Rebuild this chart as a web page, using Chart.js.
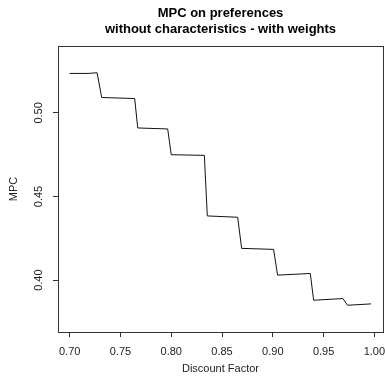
<!DOCTYPE html>
<html>
<head>
<meta charset="utf-8">
<script src="https://cdn.jsdelivr.net/npm/chart.js@4/dist/chart.umd.min.js"></script>
<style>
  body { margin: 0; background: #fff; }
  #wrap { width: 385px; height: 382px; }
</style>
</head>
<body>
<div id="wrap"><canvas id="chart"></canvas></div>
<script>
// values
const discountFactor = [0.700, 0.718, 0.727, 0.7315, 0.764, 0.767, 0.7965, 0.800, 0.8326, 0.8355,
  0.8654, 0.8693, 0.9008, 0.9047, 0.9369, 0.9402, 0.969, 0.9736, 0.9967];
const mpc = [0.5236, 0.5236, 0.524, 0.5092, 0.5086, 0.491, 0.4904, 0.4750, 0.4746, 0.4384,
  0.4376, 0.419, 0.4184, 0.403, 0.404, 0.388, 0.389, 0.385, 0.3858];
const xTicks = [0.70, 0.75, 0.80, 0.85, 0.90, 0.95, 1.00];
const yTicks = [0.40, 0.45, 0.50];
const titleLines = ['MPC on preferences', 'without characteristics - with weights'];

const fontFamily = '"Liberation Sans", Arial, sans-serif';
const ink = '#222';

// box round the plot region, like R's box()
const boxPlugin = {
  id: 'plotBox',
  afterDraw(chart) {
    const a = chart.chartArea;
    const ctx = chart.ctx;
    ctx.save();
    ctx.strokeStyle = '#333';
    ctx.lineWidth = 1;
    ctx.strokeRect(Math.round(a.left) + 0.5, Math.round(a.top) + 0.5,
      Math.round(a.right - a.left), Math.round(a.bottom - a.top));
    ctx.restore();
  },
};

const ctx = document.getElementById('chart').getContext('2d');
const chart = new Chart(ctx, {
  type: 'line',
  data: {
    datasets: [{
      data: discountFactor.map((x, i) => ({ x: x, y: mpc[i] })),
      borderColor: '#111',
      borderWidth: 1,
      pointRadius: 0,
      tension: 0,
      fill: false,
    }],
  },
  options: {
    responsive: true,
    maintainAspectRatio: false,
    animation: false,
    layout: { padding: { left: 0, right: 2, top: 0, bottom: 0 } },
    plugins: {
      legend: { display: false },
      tooltip: { enabled: false },
      title: {
        display: true,
        text: titleLines,
        fullSize: false,
        color: '#000',
        font: { family: fontFamily, size: 13, weight: 'bold', lineHeight: 16 / 13 },
        padding: { top: 5, bottom: 9 },
      },
    },
    scales: {
      x: {
        type: 'linear',
        min: 0.6885,
        max: 1.0085,
        afterBuildTicks: (scale) => { scale.ticks = xTicks.map((v) => ({ value: v })); },
        afterFit: (scale) => {
          scale.height = 50;
          scale.paddingLeft = 0;
          scale.paddingRight = 0;
        },
        border: { display: false },
        grid: { drawOnChartArea: false, drawTicks: true, tickLength: 5, color: '#333' },
        ticks: {
          color: ink,
          padding: 8,
          maxRotation: 0,
          autoSkip: false,
          font: { family: fontFamily, size: 11 },
          callback: (v) => Number(v).toFixed(2),
        },
        title: {
          display: true,
          text: 'Discount Factor',
          color: ink,
          font: { family: fontFamily, size: 11 },
          padding: { top: 0, bottom: 6 },
        },
      },
      y: {
        type: 'linear',
        min: 0.369,
        max: 0.540,
        afterBuildTicks: (scale) => { scale.ticks = yTicks.map((v) => ({ value: v })); },
        afterFit: (scale) => {
          scale.width = 58;
          scale.paddingTop = 0;
          scale.paddingBottom = 0;
        },
        border: { display: false },
        grid: { drawOnChartArea: false, drawTicks: true, tickLength: 5, color: '#333' },
        ticks: {
          color: ink,
          padding: 3,
          minRotation: 90,
          maxRotation: 90,
          crossAlign: 'center',
          autoSkip: false,
          font: { family: fontFamily, size: 11 },
          callback: (v) => Number(v).toFixed(2),
        },
        title: {
          display: true,
          text: 'MPC',
          color: ink,
          font: { family: fontFamily, size: 11 },
          padding: { top: 7, bottom: 0 },
        },
      },
    },
  },
  plugins: [boxPlugin],
});
</script>
</body>
</html>
